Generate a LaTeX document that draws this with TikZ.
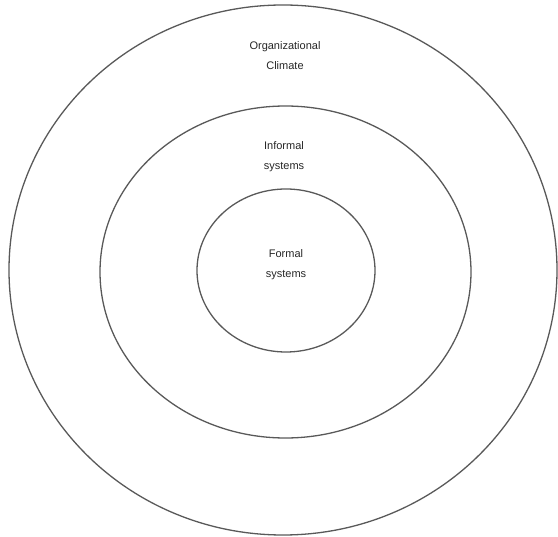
\documentclass[tikz,border=0pt]{standalone}
\usepackage{fontspec}
\setsansfont{Liberation Sans}
\usetikzlibrary{shapes.geometric}

\begin{document}
\begin{tikzpicture}[x=1pt, y=-1pt, line width=1.3pt]
			\tikzstyle{ring} = [ellipse, draw=black!65, inner sep=0pt]
			\tikzstyle{lbl} = [align=center, text=black!85, font=\sffamily\fontsize{11}{20}\selectfont]
			\useasboundingbox (0,0) rectangle (558,537);
			\node[ring, minimum width=548pt, minimum height=530pt] (climate) at (283,270) {};
			\node[ring, minimum width=371pt, minimum height=332pt] (informal) at (285.5,272) {};
			\node[ring, minimum width=178pt, minimum height=163pt] (formal) at (286,270.5) {};
			\node[lbl] (climatetxt) at (285,56) {Organizational\\Climate};
			\node[lbl] (informaltxt) at (284,157) {Informal\\systems};
			\node[lbl] (formaltxt) at (286,265) {Formal\\systems};
			\end{tikzpicture}
\end{document}
